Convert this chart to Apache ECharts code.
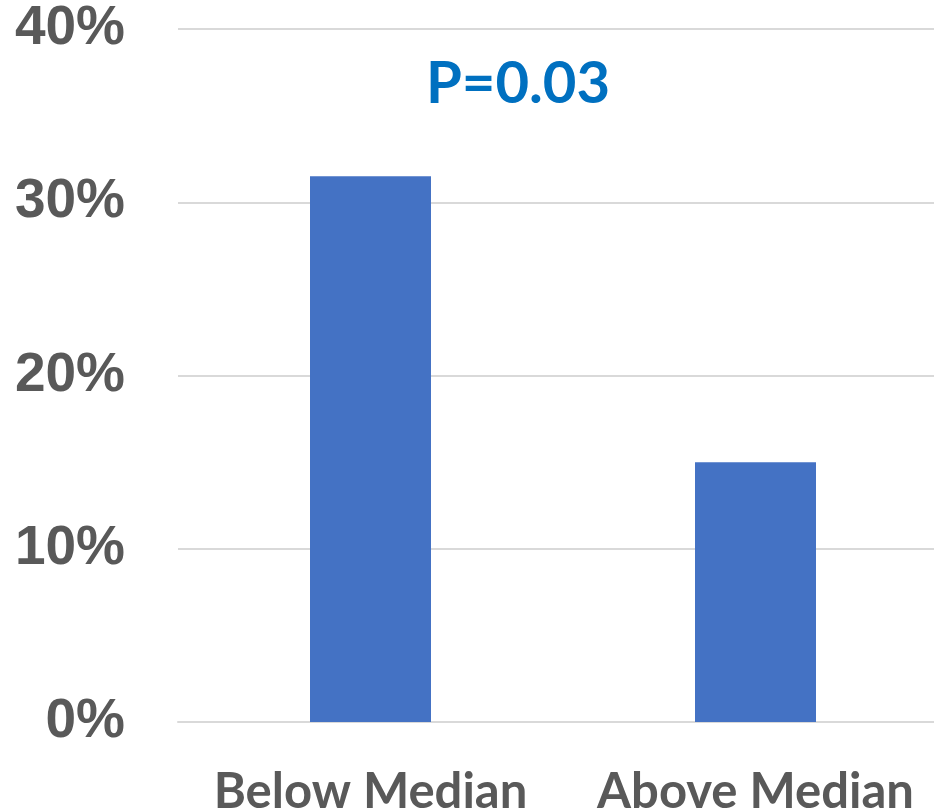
<!DOCTYPE html>
<html>
<head>
<meta charset="utf-8">
<script src="https://cdn.jsdelivr.net/npm/echarts@6/dist/echarts.min.js"></script>
<style>
  html, body { margin: 0; padding: 0; background: #ffffff; }
  #chart { width: 934px; height: 810px; }
</style>
</head>
<body>
<div id="chart"></div>
<script>
// Share of patients by group (percent)
var categories = ['Below Median', 'Above Median'];
var rates = [31.5, 15.0];
var yTicks = [0, 10, 20, 30, 40];
var pValueText = 'P=0.03';

var chart = echarts.init(document.getElementById('chart'), null, { renderer: 'canvas' });

chart.setOption({
  animation: false,
  // plot area runs slightly past the right edge of the canvas
  grid: {
    left: 178, width: 770, top: 29, bottom: 88,
    containLabel: false,
    outerBoundsMode: 'none'
  },
  xAxis: {
    type: 'category',
    data: categories,
    axisLine: { show: true, lineStyle: { color: '#d9d9d9', width: 2 } },
    axisTick: { show: false },
    axisLabel: {
      interval: 0,
      hideOverlap: false,
      color: '#595959',
      fontFamily: 'Lato',
      fontWeight: 'bold',
      fontSize: 49,
      margin: 46
    }
  },
  yAxis: {
    type: 'value',
    min: yTicks[0],
    max: yTicks[yTicks.length - 1],
    interval: 10,
    axisLine: { show: false },
    axisTick: { show: false },
    splitLine: { lineStyle: { color: '#d9d9d9', width: 2 } },
    axisLabel: {
      color: '#595959',
      fontFamily: 'Liberation Sans',
      fontWeight: 'bold',
      fontSize: 55,
      margin: 53,
      padding: [5, 0, 0, 0],
      formatter: function (v) { return v + '%'; }
    }
  },
  series: [{
    type: 'bar',
    data: rates,
    barWidth: 121,
    itemStyle: { color: '#4472c4' }
  }],
  graphic: [{
    type: 'text',
    x: 518,
    y: 55,
    style: {
      text: pValueText,
      fill: '#0070c0',
      font: 'bold 58px Lato',
      textAlign: 'center',
      textVerticalAlign: 'top'
    }
  }]
});
</script>
</body>
</html>
